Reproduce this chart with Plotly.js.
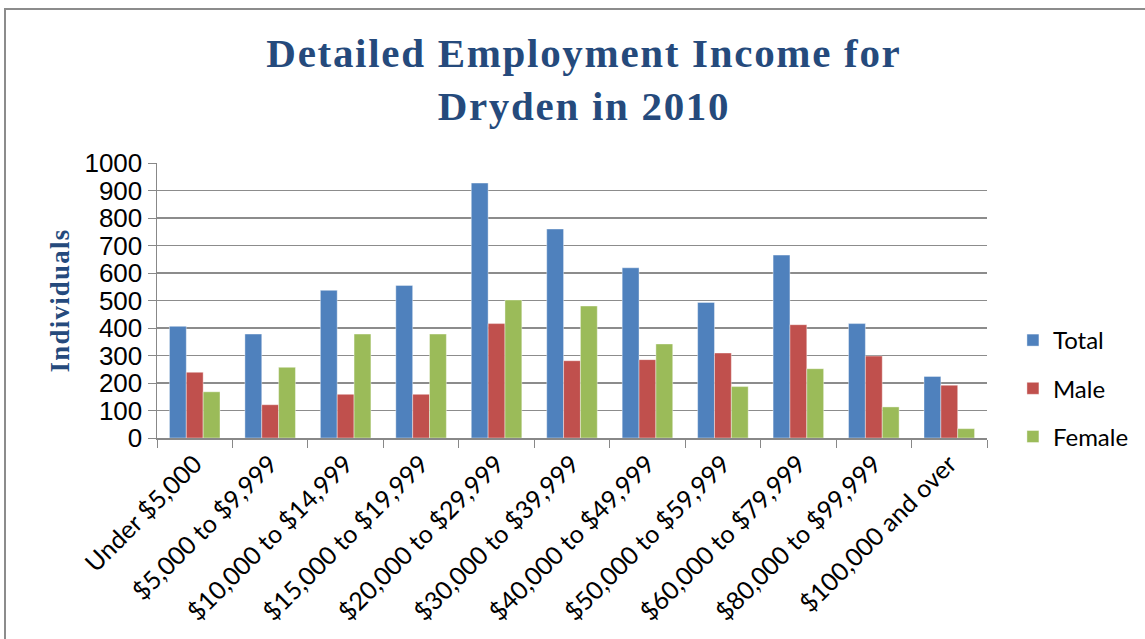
<!DOCTYPE html>
<html>
<head>
<meta charset="utf-8">
<script src="https://cdn.plot.ly/plotly-3.0.1.min.js"></script>
<style>
html,body{margin:0;padding:0;background:#fff;overflow:hidden;}
#frame{position:absolute;left:4px;top:8px;width:1160px;height:660px;border:2px solid #8c8c8c;box-sizing:border-box;}
#chart{position:absolute;left:0;top:0;width:1145px;height:639px;}
.gtitle{letter-spacing:1.7px;}
.ytitle{letter-spacing:1.2px;}
</style>
</head>
<body>
<div id="frame"></div>
<div id="chart"></div>
<script>
const categories = ["Under $5,000","$5,000 to $9,999","$10,000 to $14,999","$15,000 to $19,999","$20,000 to $29,999","$30,000 to $39,999","$40,000 to $49,999","$50,000 to $59,999","$60,000 to $79,999","$80,000 to $99,999","$100,000 and over"];
const totalValues  = [406, 378, 537, 555, 927, 760, 619, 493, 665, 416, 224];
const maleValues   = [239, 121, 159, 159, 416, 281, 285, 309, 412, 298, 192];
const femaleValues = [168, 257, 378, 378, 502, 480, 342, 187, 252, 113, 34];
const yTicks = [0,100,200,300,400,500,600,700,800,900,1000];

const mk = (name, vals, color) => ({
  type: 'bar', name: name, x: categories, y: vals,
  marker: {color: color, line: {color: 'rgba(255,255,255,0.5)', width: 0.8}},
  legendgroup: name, hoverinfo: 'x+y+name'
});

const data = [
  mk('Total', totalValues, '#4F81BD'),
  mk('Male', maleValues, '#C0504D'),
  mk('Female', femaleValues, '#9BBB59')
];

const layout = {
  width: 1145, height: 639,
  paper_bgcolor: 'rgba(0,0,0,0)', plot_bgcolor: 'rgba(0,0,0,0)',
  margin: {l: 157, r: 157, t: 163, b: 201, pad: 0},
  barmode: 'group', bargap: 0.33, bargroupgap: 0,
  title: {
    text: 'Detailed Employment Income for<br>Dryden in 2010',
    font: {family: 'Liberation Serif, serif', size: 41, color: '#254A7C', weight: 'bold'},
    x: 0.51, xanchor: 'center', yref: 'container', y: 0.895, yanchor: 'middle'
  },
  xaxis: {
    type: 'category', tickangle: -45,
    tickfont: {family: 'Lato, Open Sans, sans-serif', size: 25, color: '#000'},
    showline: true, linecolor: '#888', linewidth: 1.5,
    ticks: 'outside', tickson: 'boundaries', ticklen: 8, tickcolor: '#888',
    showgrid: false, automargin: false
  },
  yaxis: {
    range: [0, 1000], tickvals: yTicks, ticktext: yTicks.map(String),
    tickfont: {family: 'Liberation Sans, Arial, sans-serif', size: 26, color: '#000'},
    showline: true, linecolor: '#888', linewidth: 1.5,
    ticks: 'outside', ticklen: 8, tickcolor: '#888',
    showgrid: true, gridcolor: '#8c8c8c', gridwidth: 1.2,
    zeroline: false, automargin: false,
    title: {text: 'Individuals', font: {family: 'Liberation Serif, serif', size: 27, color: '#254A7C', weight: 'bold'}, standoff: 7}
  },
  legend: {
    x: 1.03, xanchor: 'left', y: 0.18, yanchor: 'middle',
    font: {family: 'Lato, Open Sans, sans-serif', size: 24, color: '#000'},
    tracegroupgap: 14, itemwidth: 30, bgcolor: 'rgba(0,0,0,0)'
  },
  showlegend: true
};

Plotly.newPlot('chart', data, layout, {displayModeBar: false, staticPlot: true});
</script>
</body>
</html>
